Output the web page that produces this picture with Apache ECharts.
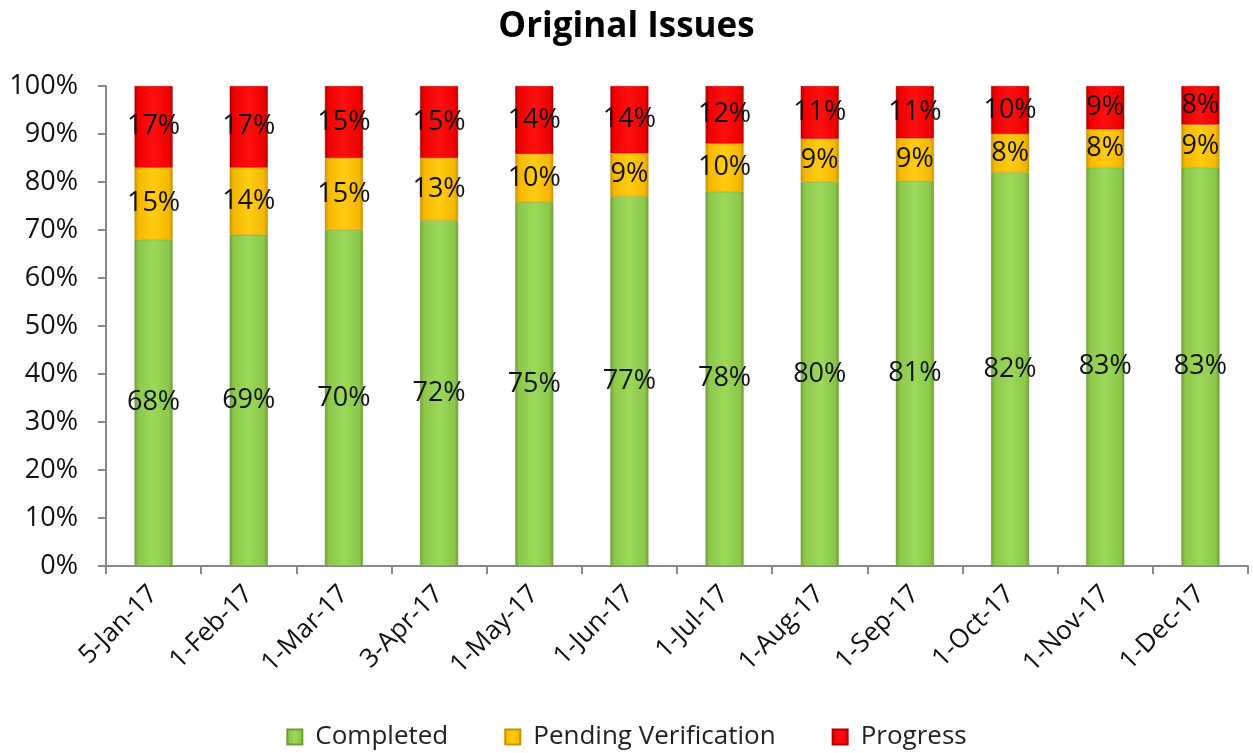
<!DOCTYPE html>
<html lang="en">
<head>
    <meta charset="UTF-8">
    <title>Original Issues</title>
</head>
<style>
    html, body { margin: 0; padding: 0; background: #fff; }
    #chart { width: 1253px; height: 753px; }
</style>
<body>
<div id="chart"></div>
</body>
<script src="https://cdn.jsdelivr.net/npm/echarts@6/dist/echarts.min.js"></script>
<script>
    var categories = ['5-Jan-17', '1-Feb-17', '1-Mar-17', '3-Apr-17', '1-May-17', '1-Jun-17',
        '1-Jul-17', '1-Aug-17', '1-Sep-17', '1-Oct-17', '1-Nov-17', '1-Dec-17'];
    var completed = [68, 69, 70, 72, 75, 77, 78, 80, 81, 82, 83, 83];
    var pending = [15, 14, 15, 13, 10, 9, 10, 9, 9, 8, 8, 9];
    var progress = [17, 17, 15, 15, 14, 14, 12, 11, 11, 10, 9, 8];

    var font = 'Open Sans';

    // 100% stacked: each column is scaled to its own total, labels keep the shown value
    function toShare(arr) {
        return arr.map(function (v, i) {
            var sum = completed[i] + pending[i] + progress[i];
            return {value: v / sum * 100, shown: v};
        });
    }

    // bevelled look: darker edges, lighter middle
    function bevel(edge, mid, light) {
        return new echarts.graphic.LinearGradient(0, 0, 1, 0, [
            {offset: 0, color: edge},
            {offset: 0.1, color: mid},
            {offset: 0.5, color: light},
            {offset: 0.9, color: mid},
            {offset: 1, color: edge}
        ]);
    }

    function barSeries(name, data, edge, mid, light) {
        return {
            name: name,
            type: 'bar',
            stack: 'total',
            barWidth: '40%',
            data: toShare(data),
            itemStyle: {
                color: bevel(edge, mid, light),
                borderColor: edge,
                borderWidth: 0.5
            },
            label: {
                show: true,
                position: 'inside',
                color: '#111',
                fontFamily: font,
                fontSize: 27,
                formatter: function (p) {
                    return p.data.shown + '%';
                }
            }
        };
    }

    var myChart = echarts.init(document.getElementById('chart'));
    var option = {
        animation: false,
        title: {
            text: 'Original Issues',
            left: 'center',
            top: 5,
            textStyle: {
                fontFamily: font,
                fontWeight: 'bold',
                fontSize: 35,
                color: '#000'
            }
        },
        color: ['#92D050', '#FFC000', '#FF0000'],
        legend: {
            top: 719,
            left: 'center',
            itemWidth: 15,
            itemHeight: 15,
            itemGap: 56,
            icon: 'rect',
            textStyle: {fontFamily: font, fontSize: 26, color: '#222', padding: [0, 0, 0, 8]},
            data: ['Completed', 'Pending Verification', 'Progress']
        },
        grid: {
            left: 106,
            right: 5,
            top: 86,
            bottom: 187,
            containLabel: false
        },
        xAxis: {
            type: 'category',
            data: categories,
            axisLine: {lineStyle: {color: '#888', width: 2}},
            axisTick: {show: true, length: 8, alignWithLabel: false, lineStyle: {color: '#888', width: 2}},
            axisLabel: {
                rotate: 45,
                color: '#111',
                fontFamily: font,
                fontSize: 26,
                margin: 24,
                interval: 0
            }
        },
        yAxis: {
            type: 'value',
            min: 0,
            max: 100,
            interval: 10,
            splitLine: {show: false},
            axisLine: {show: true, lineStyle: {color: '#888', width: 2}},
            axisTick: {show: true, length: 8, lineStyle: {color: '#888', width: 2}},
            axisLabel: {
                color: '#111',
                fontFamily: font,
                fontSize: 27,
                margin: 28,
                formatter: '{value}%'
            }
        },
        series: [
            barSeries('Completed', completed, '#6E9E35', '#8CC84B', '#9BD95A'),
            barSeries('Pending Verification', pending, '#C89300', '#F5B800', '#FFCC10'),
            barSeries('Progress', progress, '#B00000', '#F00000', '#FF1010')
        ]
    };
    myChart.setOption(option);
</script>
</html>
